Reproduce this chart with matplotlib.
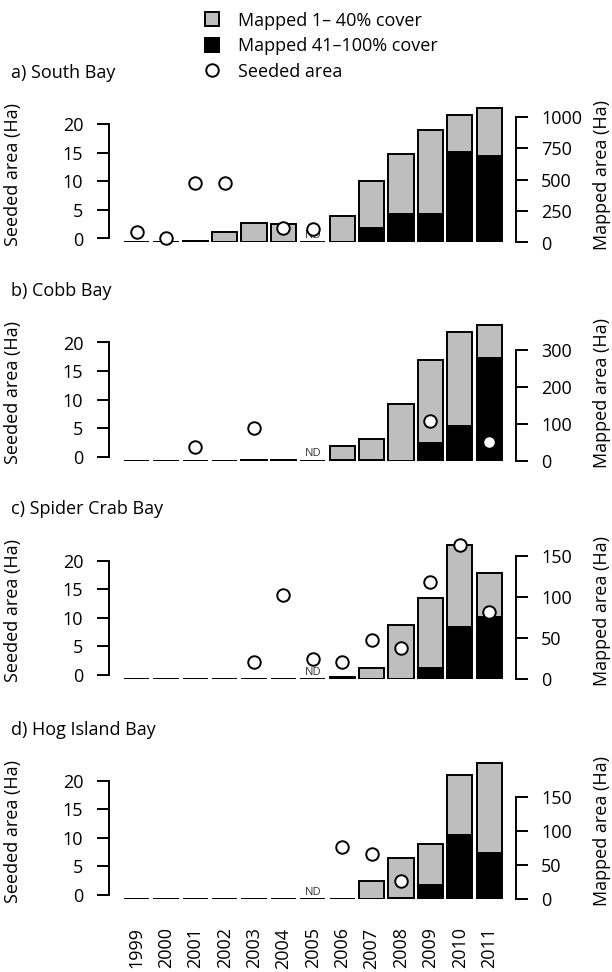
import matplotlib
matplotlib.use('Agg')
import matplotlib.pyplot as plt
from matplotlib.patches import Patch
from matplotlib.lines import Line2D
import numpy as np

plt.rcParams['font.family'] = ['Open Sans', 'DejaVu Sans']

# ---------------- data ----------------
years = [1999, 2000, 2001, 2002, 2003, 2004, 2005, 2006, 2007, 2008, 2009, 2010, 2011]
titles = ['a) South Bay', 'b) Cobb Bay', 'c) Spider Crab Bay', 'd) Hog Island Bay']
nan = np.nan

# Mapped 41-100% cover (Ha) -- black
south_dense = [0, 0, 12, 4, 6, 3, 0, 0, 113, 229, 229, 722, 688]
cobb_dense = [0, 0, 0, 0, 3, 3, 0, 2, 2, 0, 47, 95, 279]
spider_dense = [0, 0, 0, 0, 0, 0, 0, 2, 0, 0, 13, 64, 76]
hog_dense = [0, 0, 0, 0, 0, 0, 0, 0, 0, 1, 21, 95, 68]

# Mapped 1-40% cover (Ha) -- grey
south_sparse = [0, 0, 0, 79, 146, 142, 0, 211, 378, 474, 665, 294, 383]
cobb_sparse = [0, 0, 0, 0, 0, 0, 0, 37, 57, 154, 227, 255, 88]
spider_sparse = [0, 0, 0, 0, 0, 0, 0, 0, 13, 66, 86, 100, 54]
hog_sparse = [0, 0, 0, 0, 0, 0, 0, 0, 26, 59, 60, 88, 133]

# Seeded area (Ha) -- circles
south_seeded = [1.05, 0.1, 9.65, 9.65, nan, 1.9, 1.7, nan, nan, nan, nan, nan, nan]
cobb_seeded = [nan, nan, 1.7, nan, 5.0, nan, nan, nan, nan, nan, 6.2, nan, 2.6]
spider_seeded = [nan, nan, nan, nan, 2.2, 14.0, 2.8, 2.35, 6.2, 4.8, 16.35, 22.7, 11.05]
hog_seeded = [nan, nan, nan, nan, nan, nan, nan, 8.4, 7.1, 2.5, nan, nan, nan]

nd_year = 2005
left_ticks = [0, 5, 10, 15, 20]
right_ticks = [[0, 250, 500, 750, 1000], [0, 100, 200, 300], [0, 50, 100, 150], [0, 50, 100, 150]]

dense_all = [south_dense, cobb_dense, spider_dense, hog_dense]
sparse_all = [south_sparse, cobb_sparse, spider_sparse, hog_sparse]
seeded_all = [south_seeded, cobb_seeded, spider_seeded, hog_seeded]

# ---------------- layout (pixels) ----------------
W, HH = 612, 972
GREY = '#bebebe'
FS = 13
LW = 1.4
fig = plt.figure(figsize=(W / 100, HH / 100), dpi=100)

xl_px, xr_px = 108.5, 516.0
c0_px, pitch_px = 136.5, 29.39
xlim = ((xl_px - c0_px) / pitch_px, (xr_px - c0_px) / pitch_px)
H = 150.0
# baseline pixel and pixel of the top right-axis tick
geo = [
    dict(yb=242.5, yR=116.7),
    dict(yb=460.8, yR=350.0),
    dict(yb=679.0, yR=556.3),
    dict(yb=899.0, yR=797.3),
]

xpos = np.arange(len(years))
for k in range(4):
    g = geo[k]
    yb = g['yb']
    y0, y20 = yb - 4.0, yb - 118.3
    ax = fig.add_axes([xl_px / W, 1 - yb / HH, (xr_px - xl_px) / W, H / HH])
    ax2 = ax.twinx()
    R = right_ticks[k][-1]
    ax.set_ylim(0, R * H / (yb - g['yR']))
    u = 20.0 / (y0 - y20)
    lo = -(yb - y0) * u
    ax2.set_ylim(lo, lo + H * u)
    ax.set_xlim(*xlim)

    dense = np.array(dense_all[k], float)
    sparse = np.array(sparse_all[k], float)
    ax.bar(xpos, dense, width=0.86, color='black', edgecolor='black', linewidth=LW, zorder=2)
    ax.bar(xpos, sparse, width=0.86, bottom=dense, color=GREY, edgecolor='black', linewidth=LW, zorder=2)
    nd_i = years.index(nd_year)
    ax.annotate('ND', (nd_i, 0), xytext=(0, 1.0), textcoords='offset points',
                ha='center', va='bottom', fontsize=8, color='#333333', zorder=5)

    ax2.plot(xpos, seeded_all[k], ls='none', marker='o', ms=9.0, mfc='white', mec='black',
             mew=1.4, zorder=4, clip_on=False)

    # right axis (mapped)
    ax.yaxis.tick_right()
    ax.set_yticks(right_ticks[k])
    ax.tick_params(axis='y', direction='out', length=8.6, width=LW, pad=9.6, labelsize=FS)
    for s in ['top', 'bottom', 'left']:
        ax.spines[s].set_visible(False)
    ax.spines['right'].set_bounds(0, R)
    ax.spines['right'].set_linewidth(LW)
    ax.set_ylabel('Mapped area (Ha)', fontsize=FS)
    ax.yaxis.set_label_position('right')
    ax.yaxis.set_label_coords((593 - xl_px) / (xr_px - xl_px), 68 / H)

    # left axis (seeded)
    ax2.yaxis.tick_left()
    ax2.set_yticks(left_ticks)
    ax2.tick_params(axis='y', direction='out', length=8.6, width=LW, pad=9.6, labelsize=FS)
    for s in ['top', 'bottom', 'right']:
        ax2.spines[s].set_visible(False)
    ax2.spines['left'].set_bounds(0, 20)
    ax2.spines['left'].set_linewidth(LW)
    ax2.set_ylabel('Seeded area (Ha)', fontsize=FS)
    ax2.yaxis.set_label_position('left')
    ax2.yaxis.set_label_coords((22.5 - xl_px) / (xr_px - xl_px), 68 / H)

    ax.set_xticks(xpos)
    if k == 3:
        ax.set_xticklabels([str(y) for y in years], rotation=90, fontsize=FS)
        ax.tick_params(axis='x', length=0, pad=20.5)
    else:
        ax.set_xticklabels([])
        ax.tick_params(axis='x', length=0)

    fig.text(11 / W, 1 - (yb - 169.5) / HH, titles[k], ha='left', va='center', fontsize=FS)

handles = [Patch(facecolor=GREY, edgecolor='black', linewidth=LW),
           Patch(facecolor='black', edgecolor='black', linewidth=LW),
           Line2D([], [], ls='none', marker='o', ms=9.0, mfc='white', mec='black', mew=1.4)]
labels = ['Mapped 1\u2013 40% cover', 'Mapped 41\u2013100% cover', 'Seeded area']
fig.legend(handles, labels, loc='upper left', bbox_to_anchor=(205 / W, 1 - 11.5 / HH),
           frameon=False, fontsize=FS, handlelength=0.8, handleheight=0.8,
           handletextpad=1.05, labelspacing=0.42, borderpad=0, borderaxespad=0)

fig.savefig('out.png', dpi=100)
